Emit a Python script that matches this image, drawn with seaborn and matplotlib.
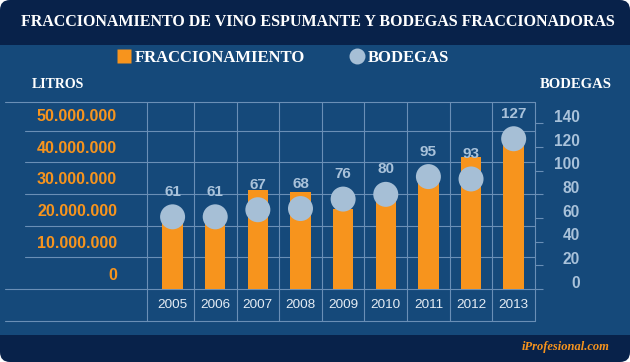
import matplotlib
matplotlib.use("Agg")
import matplotlib.pyplot as plt
from matplotlib.patches import FancyBboxPatch, Rectangle
from matplotlib.lines import Line2D
from matplotlib.transforms import blended_transform_factory, offset_copy
import seaborn as sns
import pandas as pd

# --- data ---
years = ["2005", "2006", "2007", "2008", "2009", "2010", "2011", "2012", "2013"]
litros = [22_000_000, 22_000_000, 31_300_000, 30_600_000, 25_200_000,
          28_500_000, 35_500_000, 41_700_000, 46_500_000]
bodegas = [61, 61, 67, 68, 76, 80, 95, 93, 127]
litros_ticks = [0, 10_000_000, 20_000_000, 30_000_000, 40_000_000, 50_000_000]
bodegas_ticks = [0, 20, 40, 60, 80, 100, 120, 140]

TITLE = "FRACCIONAMIENTO DE VINO ESPUMANTE Y BODEGAS FRACCIONADORAS"

# colours
NAVY_DARK = "#08224a"
NAVY = "#15497a"
ORANGE = "#f7941d"
CIRCLE = "#a6bfd6"
BLUE_TXT = "#a9c2da"
YEAR_TXT = "#e4ecf4"
LINE = "#6a8fb6"
LW = 0.8

sns.set_style("white")
plt.rcParams["font.family"] = ["Liberation Sans", "DejaVu Sans"]
SERIF = ["Liberation Serif", "DejaVu Serif"]

df = pd.DataFrame({"anio": years, "litros": litros, "bodegas": bodegas})

fig = plt.figure(figsize=(6.3, 3.62), dpi=100)
fig.patch.set_facecolor("white")

# background panels (inches), kept behind the axes
fig.patches.append(FancyBboxPatch((0, 0), 6.3, 3.62,
                                  boxstyle="round,pad=0,rounding_size=0.1",
                                  transform=fig.dpi_scale_trans,
                                  facecolor=NAVY_DARK, edgecolor="none",
                                  zorder=-10))
fig.patches.append(Rectangle((0, 0.27), 6.3, 2.90, transform=fig.dpi_scale_trans,
                             facecolor=NAVY, edgecolor="none", zorder=-9))

# plot area in pixels: x 147..535, y 101.7..289
ax = fig.add_axes([147 / 630, (362 - 289) / 362, 388 / 630, 187.3 / 362])
ax.patch.set_visible(False)

sns.barplot(data=df, x="anio", y="litros", color=ORANGE, saturation=1,
            width=0.48, linewidth=0, ax=ax, zorder=2)

ax2 = ax.twinx()
ax2.patch.set_visible(False)
sns.scatterplot(data=df, x="anio", y="bodegas", color=CIRCLE, s=324,
                edgecolor="none", linewidth=0, ax=ax2, zorder=3, legend=False)

ax.set_xlim(-0.6, 8.5)
ax.set_ylim(0, 59.14e6)
ax2.set_ylim(0, 158.3)

for a in (ax, ax2):
    a.set_xlabel("")
    a.set_ylabel("")
    for s in a.spines.values():
        s.set_visible(False)

ax.set_yticks(litros_ticks)
ax.tick_params(axis="y", length=0, labelleft=False)
ax.tick_params(axis="x", length=0, pad=7, labelsize=9.7, labelcolor=YEAR_TXT)

ax2.set_yticks(bodegas_ticks)
ax2.tick_params(axis="y", direction="out", length=5.8, width=LW, color=LINE,
                labelright=False)

# grid, drawn like a table
for v in litros_ticks[1:]:
    ax.axhline(v, xmin=-0.3144, xmax=1, color=LINE, lw=LW, clip_on=False, zorder=0)
ax.axhline(0, xmin=-0.366, xmax=1, color=LINE, lw=LW, clip_on=False, zorder=0)
ax.axhline(ax.get_ylim()[1], xmin=-0.366, xmax=1, color=LINE, lw=LW,
           clip_on=False, zorder=0)
ax.plot([-0.366, 1], [-0.171, -0.171], transform=ax.transAxes, color=LINE,
        lw=LW, clip_on=False, zorder=0)
bounds = [ax.get_xlim()[0]] + [i + 0.5 for i in range(len(years))]
for b in bounds:
    ax.axvline(b, ymin=-0.171, ymax=1, color=LINE, lw=LW, clip_on=False, zorder=0)

# left labels sit in the band above each gridline
left_tr = offset_copy(blended_transform_factory(ax.transAxes, ax.transData),
                      fig=fig, x=0, y=14, units="dots")
for v in litros_ticks:
    ax.text(-0.0773, v, f"{v:,}".replace(",", "."), transform=left_tr,
            ha="right", va="center", color=ORANGE, fontsize=11.5,
            fontweight="bold", clip_on=False)

right_tr = offset_copy(blended_transform_factory(ax2.transAxes, ax2.transData),
                       fig=fig, x=0, y=6, units="dots")
for v in bodegas_ticks:
    ax2.text(1 + 45 / 388, v, str(v), transform=right_tr, ha="right",
             va="center", color=BLUE_TXT, fontsize=11.2, fontweight="bold",
             clip_on=False)

# value labels above the circles
for i, v in enumerate(bodegas):
    ax2.annotate(str(v), (i, v), xytext=(0, 18), textcoords="offset points",
                 ha="center", va="center", color=BLUE_TXT, fontsize=11,
                 fontweight="bold", zorder=4)

# titles / legend
fig.text(318 / 630, 1 - 22 / 362, TITLE, ha="center", va="center",
         family=SERIF, fontweight="bold", fontsize=11.5, color="white")
fig.text(32 / 630, 1 - 84 / 362, "LITROS", ha="left", va="center",
         family=SERIF, fontweight="bold", fontsize=10, color="white")
fig.text(612 / 630, 1 - 84 / 362, "BODEGAS", ha="right", va="center",
         family=SERIF, fontweight="bold", fontsize=10.5, color="white")
fig.text(610 / 630, 1 - 347 / 362, "iProfesional.com", ha="right", va="center",
         family=SERIF, style="italic", fontweight="bold", fontsize=9,
         color=ORANGE)

handles = [
    Line2D([], [], ls="none", marker="s", markersize=10.5,
           markerfacecolor=ORANGE, markeredgecolor="none"),
    Line2D([], [], ls="none", marker="o", markersize=11.5,
           markerfacecolor=CIRCLE, markeredgecolor="none"),
]
fig.legend(handles, ["FRACCIONAMIENTO", "BODEGAS"], loc="center left",
           bbox_to_anchor=(115.6 / 630, 1 - 58 / 362), ncol=2, frameon=False,
           prop=dict(family=SERIF, weight="bold", size=12), labelcolor="white",
           handlelength=1.0, handletextpad=0.16, columnspacing=2.6,
           borderpad=0, borderaxespad=0)

fig.savefig("out.png", dpi=100)
